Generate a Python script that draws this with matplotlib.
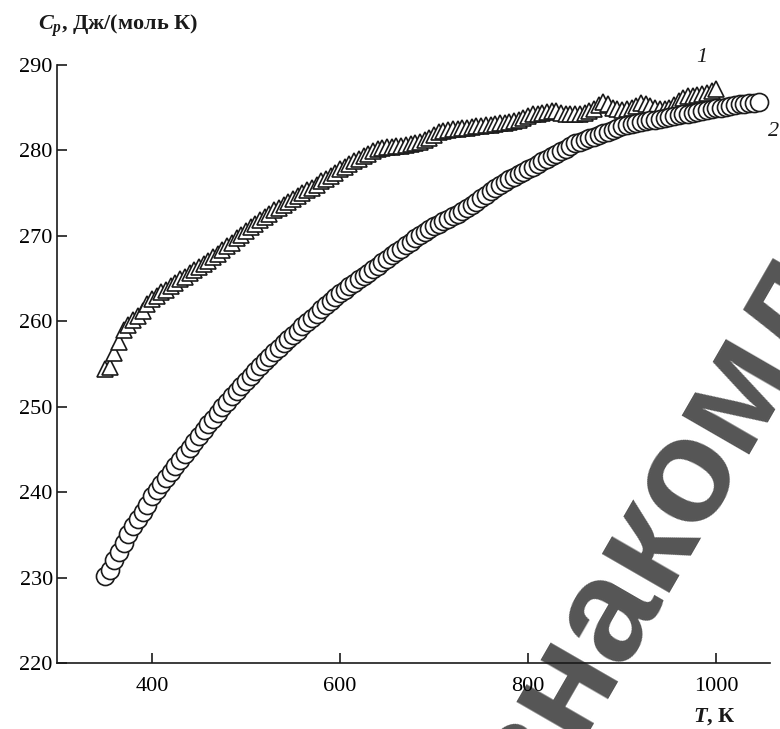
import matplotlib
matplotlib.use("Agg")
import matplotlib.pyplot as plt

# series 1 (triangles): T, K and Cp, J/(mol K)
t1 = [350, 355, 360, 365, 370, 375, 380, 385, 390, 395,
      400, 405, 410, 415, 420, 425, 430, 435, 440, 445,
      450, 455, 460, 465, 470, 475, 480, 485, 490, 495,
      500, 505, 510, 515, 520, 525, 530, 535, 540, 545,
      550, 555, 560, 565, 570, 575, 580, 585, 590, 595,
      600, 605, 610, 615, 620, 625, 630, 635, 640, 645,
      650, 655, 660, 665, 670, 675, 680, 685, 690, 695,
      700, 705, 710, 715, 720, 725, 730, 735, 740, 745,
      750, 755, 760, 765, 770, 775, 780, 785, 790, 795,
      800, 805, 810, 815, 820, 825, 830, 835, 840, 845,
      850, 855, 860, 865, 870, 875, 880, 885, 890, 895,
      900, 905, 910, 915, 920, 925, 930, 935, 940, 945,
      950, 955, 960, 965, 970, 975, 980, 985, 990, 995, 1000]
cp1 = [254.4, 254.6, 256.3, 257.6, 259.0, 259.6, 260.1, 260.6, 261.2, 262.0,
       262.6, 263.0, 263.4, 263.7, 264.1, 264.5, 264.9, 265.2, 265.6, 266.0,
       266.4, 266.7, 267.1, 267.5, 267.9, 268.3, 268.8, 269.2, 269.7, 270.1,
       270.6, 271.0, 271.4, 271.8, 272.2, 272.6, 273.0, 273.3, 273.6, 274.0,
       274.3, 274.7, 275.0, 275.3, 275.6, 276.0, 276.4, 276.7, 277.0, 277.4,
       277.8, 278.1, 278.4, 278.7, 279.0, 279.3, 279.6, 279.9, 280.2, 280.3,
       280.4, 280.4, 280.5, 280.5, 280.6, 280.7, 280.8, 281.0, 281.2, 281.5,
       281.8, 282.1, 282.3, 282.4, 282.5, 282.5, 282.6, 282.6, 282.7, 282.8,
       282.9, 283.0, 283.0, 283.1, 283.2, 283.2, 283.3, 283.4, 283.6, 283.8,
       284.0, 284.2, 284.3, 284.4, 284.5, 284.6, 284.6, 284.4, 284.3, 284.3,
       284.3, 284.3, 284.4, 284.6, 284.8, 285.3, 285.6, 285.4, 285.0, 284.8,
       284.7, 284.8, 284.9, 285.2, 285.5, 285.4, 285.2, 285.0, 284.8, 284.8,
       285.0, 285.3, 285.8, 286.1, 286.3, 286.4, 286.5, 286.6, 286.7, 286.9, 287.2]

# series 2 (circles)
t2 = [350, 355, 360, 365, 370, 375, 380, 385, 390, 395,
      400, 405, 410, 415, 420, 425, 430, 435, 440, 445,
      450, 455, 460, 465, 470, 475, 480, 485, 490, 495,
      500, 505, 510, 515, 520, 525, 530, 535, 540, 545,
      550, 555, 560, 565, 570, 575, 580, 585, 590, 595,
      600, 605, 610, 615, 620, 625, 630, 635, 640, 645,
      650, 655, 660, 665, 670, 675, 680, 685, 690, 695,
      700, 705, 710, 715, 720, 725, 730, 735, 740, 745,
      750, 755, 760, 765, 770, 775, 780, 785, 790, 795,
      800, 805, 810, 815, 820, 825, 830, 835, 840, 845,
      850, 855, 860, 865, 870, 875, 880, 885, 890, 895,
      900, 905, 910, 915, 920, 925, 930, 935, 940, 945,
      950, 955, 960, 965, 970, 975, 980, 985, 990, 995,
      1000, 1005, 1010, 1015, 1020, 1025, 1030, 1035, 1040, 1045]
cp2 = [230.2, 230.9, 232.0, 233.0, 234.1, 235.1, 236.0, 236.8, 237.7, 238.5,
       239.6, 240.3, 241.0, 241.7, 242.4, 243.1, 243.8, 244.5, 245.2, 245.9,
       246.6, 247.3, 248.0, 248.6, 249.3, 250.0, 250.6, 251.2, 251.8, 252.4,
       253.0, 253.6, 254.2, 254.8, 255.3, 255.8, 256.4, 256.9, 257.4, 257.9,
       258.4, 258.9, 259.4, 259.9, 260.4, 260.9, 261.4, 261.9, 262.4, 262.8,
       263.3, 263.7, 264.1, 264.5, 264.9, 265.3, 265.7, 266.1, 266.5, 266.9,
       267.3, 267.7, 268.1, 268.5, 268.9, 269.3, 269.7, 270.1, 270.5, 270.8,
       271.1, 271.4, 271.7, 272.0, 272.3, 272.6, 272.9, 273.2, 273.6, 274.0,
       274.4, 274.8, 275.2, 275.6, 276.0, 276.3, 276.6, 276.9, 277.2, 277.5,
       277.8, 278.1, 278.4, 278.7, 279.0, 279.3, 279.6, 279.9, 280.2, 280.5,
       280.8, 281.0, 281.2, 281.4, 281.6, 281.8, 282.0, 282.2, 282.4, 282.6,
       282.8, 283.0, 283.1, 283.2, 283.3, 283.4, 283.5, 283.6, 283.7, 283.8,
       283.9, 284.0, 284.1, 284.2, 284.3, 284.4, 284.5, 284.6, 284.7, 284.8,
       284.9, 285.0, 285.1, 285.2, 285.3, 285.4, 285.4, 285.5, 285.5, 285.6]

xticks = [400, 600, 800, 1000]
yticks = [220, 230, 240, 250, 260, 270, 280, 290]

plt.rcParams['font.family'] = ['Liberation Serif', 'DejaVu Serif']
plt.rcParams['mathtext.fontset'] = 'custom'
plt.rcParams['mathtext.it'] = 'Liberation Serif:italic:bold'
plt.rcParams['mathtext.rm'] = 'Liberation Serif:bold'

fig = plt.figure(figsize=(7.8, 7.29), dpi=100)
ax = fig.add_axes([0.073, 0.0905, 0.914, 0.8205])
ax.patch.set_alpha(0)

ink = '#1a1a1a'
ax.plot(t1, cp1, linestyle='none', marker='^', ms=12, mfc='white',
        mec=ink, mew=1.2)
ax.plot(t2, cp2, linestyle='none', marker='o', ms=13, mfc='white',
        mec=ink, mew=1.2)

ax.set_xlim(299, 1057)
ax.set_ylim(220, 290)
ax.set_xticks(xticks)
ax.set_yticks(yticks)
for s in ['top', 'right']:
    ax.spines[s].set_visible(False)
for s in ['left', 'bottom']:
    ax.spines[s].set_linewidth(1.2)
    ax.spines[s].set_color(ink)
ax.tick_params(direction='in', length=7, width=1.2, color=ink,
               labelsize=16, labelcolor='black')
ax.tick_params(axis='x', pad=10)
ax.tick_params(axis='y', pad=3)

fig.text(38 / 780, 1 - 30 / 729, r'$C_p$, Дж/(моль К)', fontsize=16,
         fontweight='bold', color=ink, ha='left', va='baseline')
fig.text(714 / 780, 1 - 722 / 729, r'$T$, К', fontsize=16,
         fontweight='bold', color=ink, ha='center', va='baseline')
fig.text(702 / 780, 1 - 57 / 729, '1', fontsize=16, style='italic',
         color=ink, ha='center', va='center')
fig.text(774 / 780, 1 - 131 / 729, '2', fontsize=16, style='italic',
         color=ink, ha='center', va='center')

# watermark
fig.text(496 / 780, -0.212, 'ознакомление', rotation=60,
         rotation_mode='anchor', ha='left', va='baseline', fontsize=106,
         fontweight='bold', color='#555555', family='Liberation Sans',
         zorder=-1)

fig.savefig('out.png', dpi=100)
